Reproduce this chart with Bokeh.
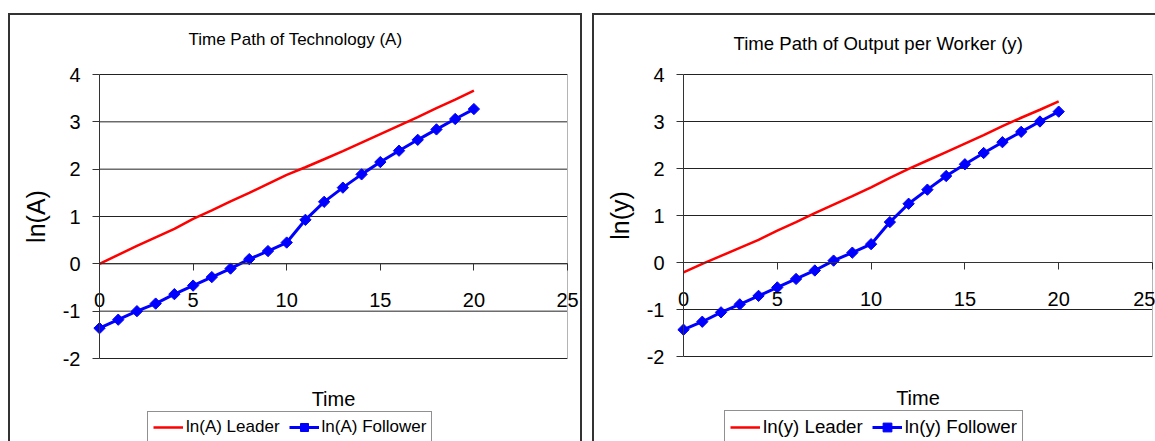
import math
from bokeh.plotting import figure
from bokeh.models import Range1d, FixedTicker, LinearAxis, Legend, LegendItem
from bokeh.core.properties import value
from bokeh.layouts import row
from bokeh.embed import file_html
from bokeh.resources import INLINE

time = [0, 1, 2, 3, 4, 5, 6, 7, 8, 9, 10, 11, 12, 13, 14, 15, 16, 17, 18, 19, 20]

lnA_leader = [0.00, 0.19, 0.38, 0.56, 0.74, 0.95, 1.13, 1.32, 1.50, 1.69, 1.88,
              2.04, 2.21, 2.38, 2.56, 2.74, 2.92, 3.10, 3.29, 3.47, 3.66]
lnA_follower = [-1.36, -1.18, -1.00, -0.84, -0.64, -0.46, -0.28, -0.10, 0.10, 0.27, 0.45,
                0.93, 1.31, 1.61, 1.89, 2.15, 2.39, 2.62, 2.84, 3.06, 3.27]

lny_leader = [-0.21, -0.03, 0.14, 0.31, 0.48, 0.68, 0.86, 1.05, 1.23, 1.41, 1.60,
              1.80, 1.99, 2.17, 2.35, 2.53, 2.71, 2.90, 3.08, 3.25, 3.43]
lny_follower = [-1.43, -1.26, -1.06, -0.89, -0.71, -0.53, -0.35, -0.17, 0.04, 0.21, 0.39,
                0.86, 1.25, 1.55, 1.84, 2.09, 2.33, 2.56, 2.78, 3.00, 3.21]

x_ticks = [0, 5, 10, 15, 20, 25]
y_ticks = [-2, -1, 0, 1, 2, 3, 4]
y_tick_labels = {-2: "-2", -1: "-1", 0: "0", 1: "1", 2: "2", 3: "3", 4: "4"}

FONT = "Liberation Sans"


def make_panel(W, H, plot_box, title, title_size, title_px, ylabel,
               leader, follower, leader_label, follower_label, legend_loc,
               legend_size, legend_h, shadow, margin):
    xmin, xmax = x_ticks[0], x_ticks[-1]
    ymin, ymax = y_ticks[0], y_ticks[-1]
    pl, pr, pt, pb = plot_box
    xs = (pr - pl) / (xmax - xmin)
    ys = (pb - pt) / (ymax - ymin)
    x_range = Range1d(xmin - pl / xs, xmax + (W - pr) / xs)
    y_range = Range1d(ymin - (H - pb) / ys, ymax + pt / ys)

    p = figure(width=W, height=H, x_range=x_range, y_range=y_range,
               output_backend="svg", toolbar_location=None,
               x_axis_location=None, y_axis_location=None,
               min_border=0, min_border_left=0, min_border_right=0,
               min_border_top=0, min_border_bottom=0)
    p.border_fill_color = None
    p.background_fill_color = None
    p.outline_line_color = None
    p.xgrid.visible = False
    p.ygrid.visible = False

    # title
    tx = x_range.start + title_px[0] / xs
    ty = y_range.end - title_px[1] / ys
    p.text(x=[tx], y=[ty], text=[title], text_font=value(FONT),
           text_font_size=value(title_size), text_color="black",
           text_align="left", text_baseline="alphabetic")

    # gridlines and plot-area border
    p.segment(x0=[xmin] * len(y_ticks), y0=y_ticks, x1=[xmax] * len(y_ticks), y1=y_ticks,
              line_color="#222222", line_width=1)
    p.segment(x0=[xmax], y0=[ymin], x1=[xmax], y1=[ymax], line_color="#b4b4b4", line_width=1)

    # y axis at x = 0
    ya = LinearAxis(fixed_location=xmin, bounds=(ymin, ymax),
                    ticker=FixedTicker(ticks=y_ticks),
                    major_label_overrides=y_tick_labels,
                    major_tick_out=7, major_tick_in=0, minor_tick_line_color=None,
                    major_label_standoff=12, major_label_text_font=FONT,
                    major_label_text_font_size="20px", major_label_text_color="black",
                    axis_line_color="#333333", major_tick_line_color="#333333",
                    axis_label=ylabel, axis_label_text_font=FONT,
                    axis_label_text_font_size="25px", axis_label_text_font_style="normal",
                    axis_label_text_color="black", axis_label_standoff=10)
    p.add_layout(ya, "left")

    # x axis crossing at y = 0
    xa = LinearAxis(fixed_location=0, bounds=(xmin, xmax),
                    ticker=FixedTicker(ticks=x_ticks),
                    major_tick_out=7, major_tick_in=0, minor_tick_line_color=None,
                    major_label_standoff=22, major_label_text_font=FONT,
                    major_label_text_font_size="20px", major_label_text_color="black",
                    axis_line_color="#333333", major_tick_line_color="#333333",
                    axis_label="Time", axis_label_text_font=FONT,
                    axis_label_text_font_size="20px", axis_label_text_font_style="normal",
                    axis_label_text_color="black", axis_label_standoff=78)
    p.add_layout(xa, "below")

    r1 = p.line(time, leader, line_color="#ff0000", line_width=2.5)
    r2 = p.line(time, follower, line_color="#0000ff", line_width=3)
    r3 = p.scatter(time, follower, marker="square", angle=math.pi / 4, size=8,
                   fill_color="#0000ff", line_color="#0000ff")

    legend = Legend(items=[LegendItem(label=leader_label, renderers=[r1]),
                           LegendItem(label=follower_label, renderers=[r2, r3])],
                    orientation="horizontal", location=legend_loc,
                    label_text_font=FONT, label_text_font_size=legend_size,
                    label_text_color="black",
                    glyph_width=30, glyph_height=legend_h, label_height=legend_h,
                    label_standoff=3, spacing=9, padding=5, margin=0,
                    border_line_color="#222222", border_line_width=1,
                    background_fill_color="white", background_fill_alpha=1)
    p.add_layout(legend)
    p.styles = {"box-shadow": shadow}
    p.margin = margin
    return p


p1 = make_panel(574, 428, (91, 559, 61, 345),
                "Time Path of Technology (A)", "17px", (180, 26),
                "ln(A)", lnA_leader, lnA_follower, "ln(A) Leader", "ln(A) Follower",
                (139, -2), "17px", 20,
                "inset 2px 2px 0 0 #333333, inset -2px 0 0 0 #333333",
                (13, 0, 0, 8))
p2 = make_panel(563, 428, (91, 560, 61, 343),
                "Time Path of Output per Worker (y)", "18.6px", (141, 30),
                "ln(y)", lny_leader, lny_follower, "ln(y) Leader", "ln(y) Follower",
                (132, -3), "18.7px", 22,
                "inset 2px 2px 0 0 #333333",
                (13, 0, 0, 10))

layout = row(p1, p2)
open("out.html", "w").write(file_html(layout, INLINE))
